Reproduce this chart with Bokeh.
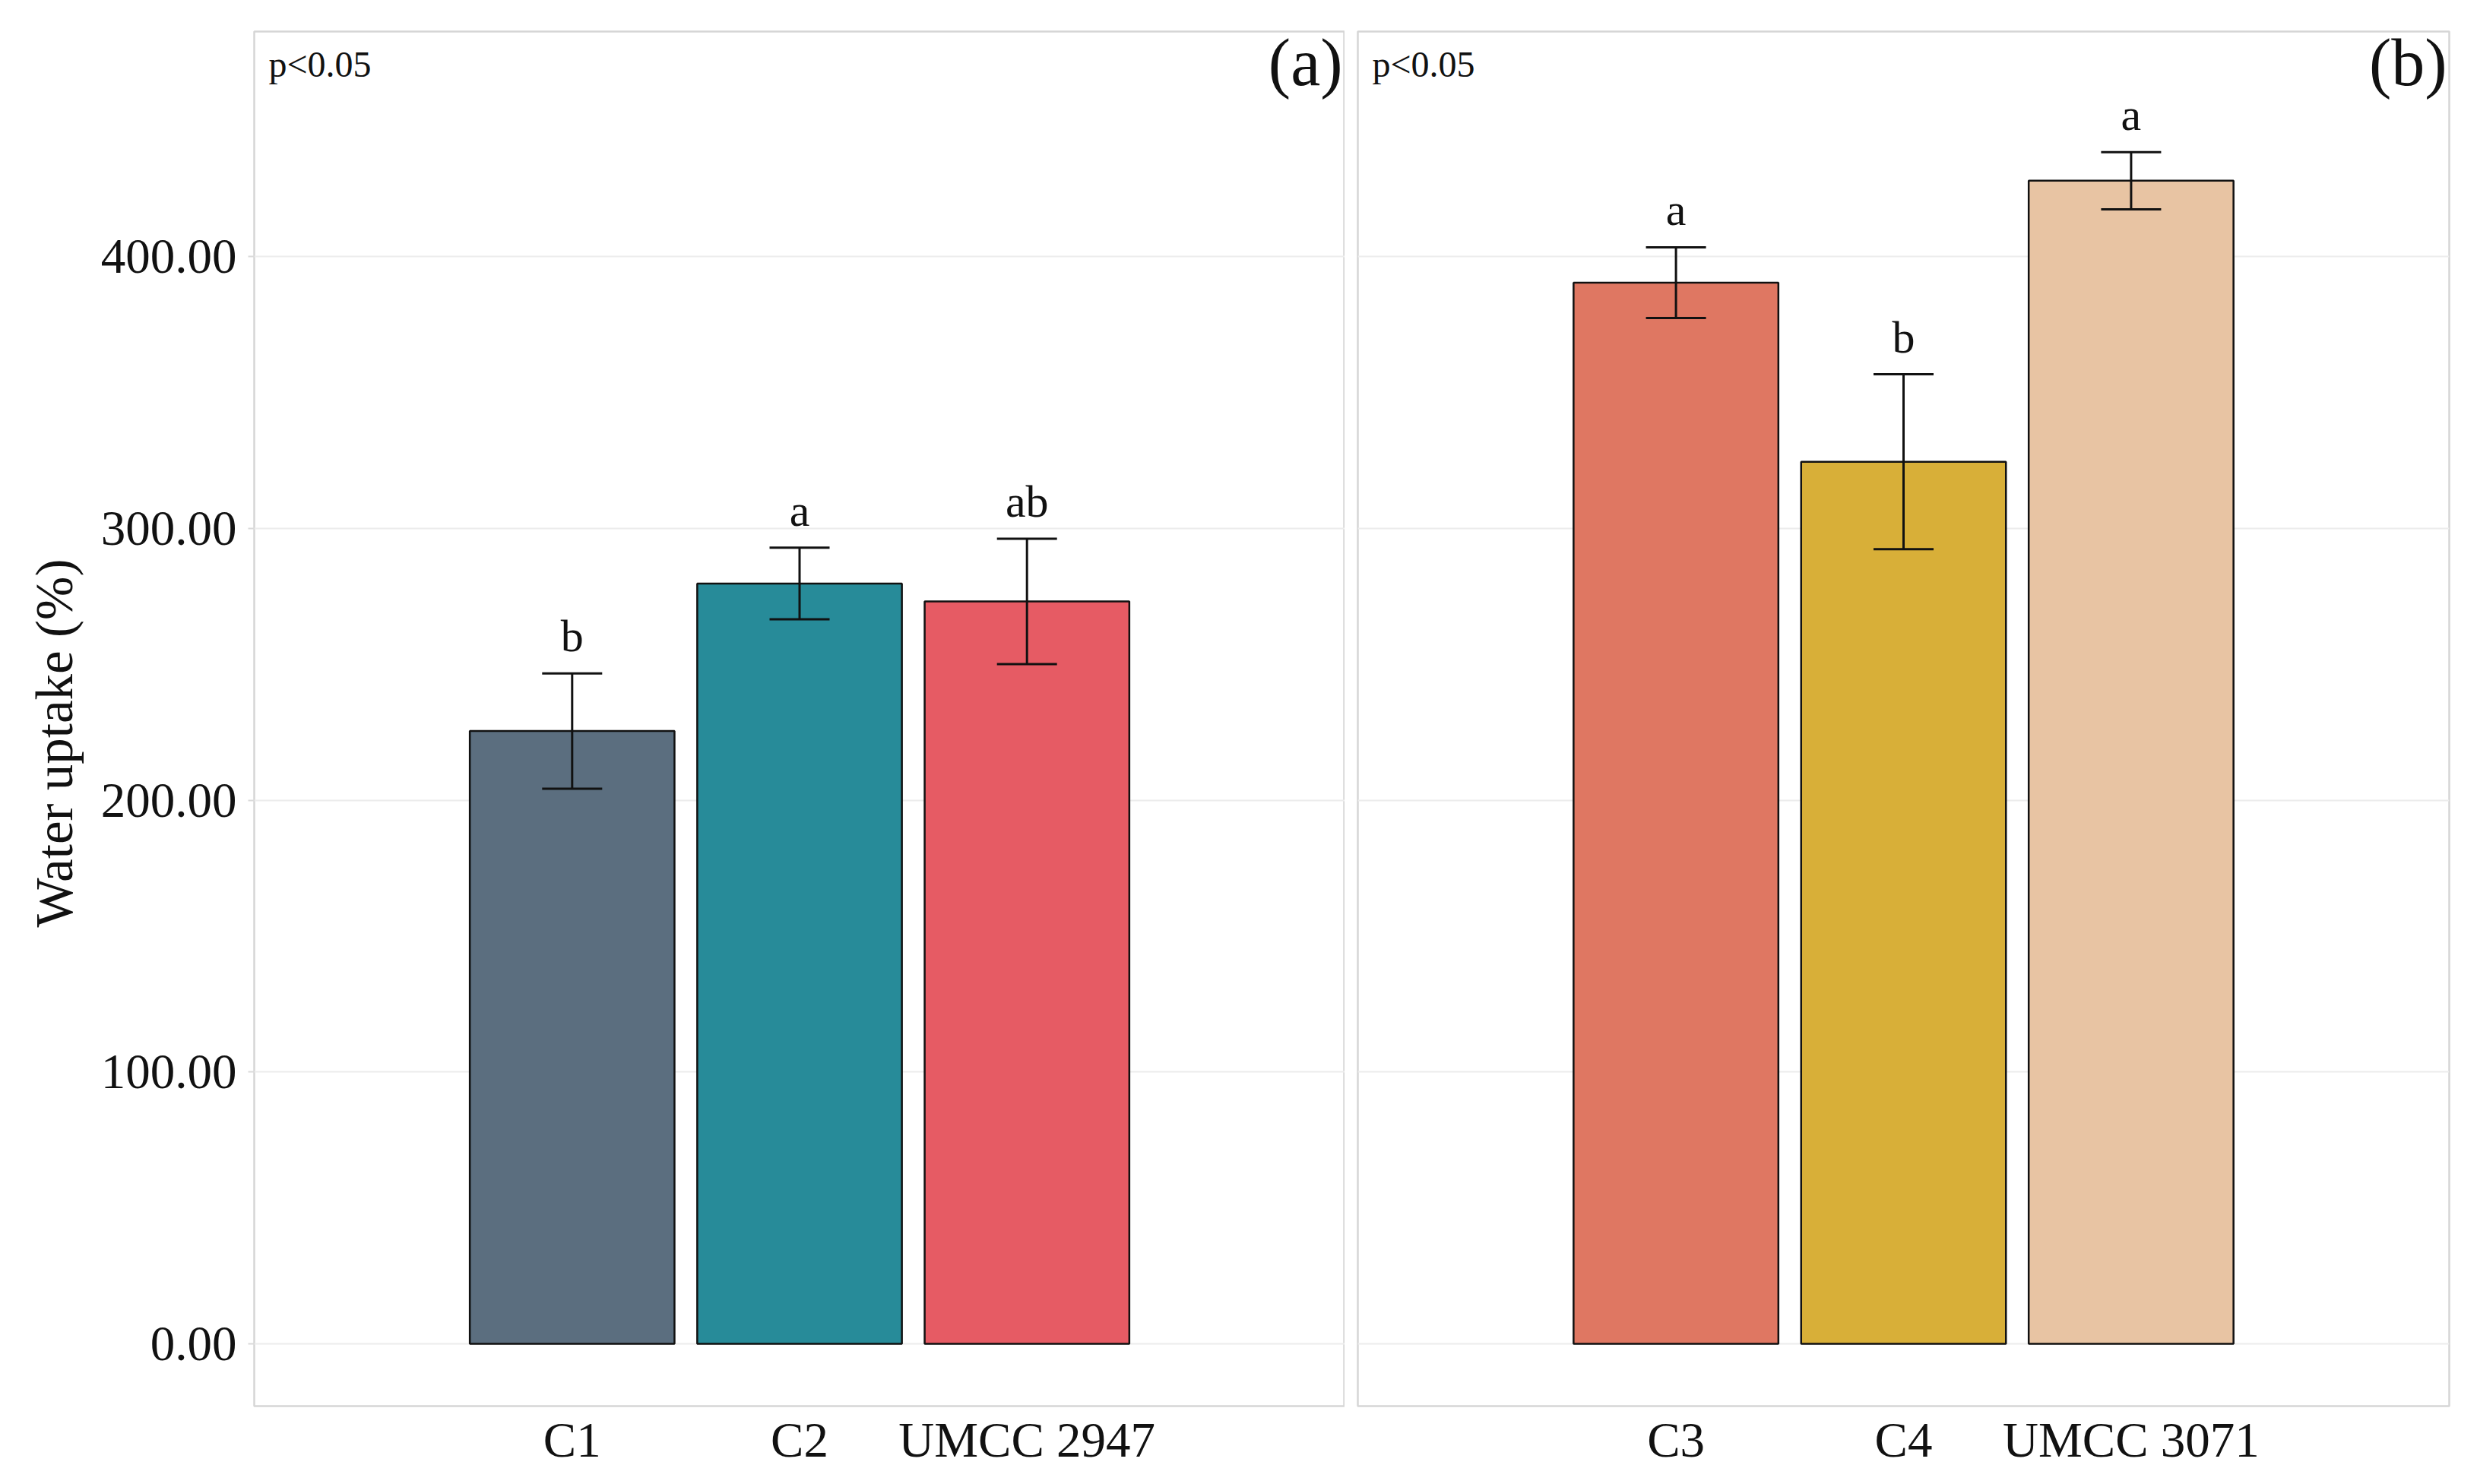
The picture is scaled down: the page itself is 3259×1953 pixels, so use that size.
from bokeh.plotting import figure
from bokeh.models import (FactorRange, Range1d, ColumnDataSource, Whisker, TeeHead,
                          Label, Title, FixedTicker, NumeralTickFormatter)
from bokeh.layouts import row
from bokeh.embed import file_html
from bokeh.resources import INLINE
from bokeh.core.properties import value

# ---- data ----
cats_a = ["C1", "C2", "UMCC 2947"]
means_a = [225.5, 279.8, 273.2]
sds_a = [21.2, 13.2, 23.1]
letters_a = ["b", "a", "ab"]
colors_a = ["#5b6e7f", "#278b99", "#e65b64"]

cats_b = ["C3", "C4", "UMCC 3071"]
means_b = [390.5, 324.6, 428.0]
sds_b = [13.0, 32.2, 10.5]
letters_b = ["a", "b", "a"]
colors_b = ["#df7762", "#d8af38", "#e8c4a3"]

y_ticks = [0, 100, 200, 300, 400]
p_text = "p<0.05"
y_title = "Water uptake (%)"

FONT = "Liberation Serif"
Y_LO, Y_HI = -22.9, 482.9
PAD = 0.898          # padding beyond the outer factors, in category units
FRAME_H = 1809


def panel(cats, means, sds, letters, colors, tag, first, fw, bl, br):
    upper = [m + s for m, s in zip(means, sds)]
    lower = [m - s for m, s in zip(means, sds)]
    src = ColumnDataSource(dict(cat=cats, mean=means, upper=upper, lower=lower,
                                ly=[u + 13.7 for u in upper], letter=letters, color=colors))
    n = len(cats)
    xr = FactorRange(factors=cats, range_padding=2 * PAD / n, range_padding_units="percent")
    p = figure(x_range=xr, y_range=Range1d(Y_LO, Y_HI), frame_width=fw, frame_height=FRAME_H,
               min_border_left=bl, min_border_right=br, min_border_top=41, min_border_bottom=103,
               output_backend="svg", toolbar_location=None)
    p.background_fill_color = "white"
    p.border_fill_color = "white"
    p.outline_line_color = "#d6d6d6"
    p.outline_line_width = 2.5

    p.vbar(x="cat", top="mean", bottom=0, width=0.9, fill_color="color",
           line_color="#111111", line_width=2.5, source=src)
    p.add_layout(Whisker(base="cat", upper="upper", lower="lower", source=src,
                         level="annotation",
                         line_color="#111111", line_width=3,
                         upper_head=TeeHead(size=79, line_width=3, line_color="#111111"),
                         lower_head=TeeHead(size=79, line_width=3, line_color="#111111")))
    p.text(x="cat", y="ly", text="letter", text_align="center", text_baseline="alphabetic",
           text_font=value(FONT), text_font_size="60px", text_color="#111111", source=src)

    left = -PAD
    right = n + PAD
    unit_px = fw / (n + 2 * PAD)
    p.add_layout(Label(x=left + 19 / unit_px, y=470.9, text=p_text, text_font=FONT,
                       text_font_size="48px", text_align="left", text_baseline="alphabetic",
                       text_color="#111111"))
    p.add_layout(Label(x=right - 3 / unit_px, y=471.5, text=tag, text_font=FONT,
                       text_font_size="88px", text_align="right", text_baseline="alphabetic",
                       text_color="#111111"))

    p.xgrid.grid_line_color = None
    p.ygrid.grid_line_color = "#ececec"
    p.ygrid.grid_line_width = 2
    p.yaxis.ticker = FixedTicker(ticks=y_ticks)
    p.yaxis.formatter = NumeralTickFormatter(format="0.00")
    p.ygrid.ticker = FixedTicker(ticks=y_ticks)

    p.xaxis.axis_line_color = None
    p.xaxis.major_tick_line_color = None
    p.xaxis.major_tick_out = 0
    p.xaxis.major_tick_in = 0
    p.xaxis.major_label_standoff = 8
    p.xaxis.major_label_text_font = FONT
    p.xaxis.major_label_text_font_size = "65px"
    p.xaxis.major_label_text_color = "#111111"

    if first:
        p.yaxis.axis_line_color = None
        p.yaxis.major_tick_line_color = "#dadada"
        p.yaxis.major_tick_line_width = 2
        p.yaxis.major_tick_out = 8
        p.yaxis.major_tick_in = 0
        p.yaxis.minor_tick_line_color = None
        p.yaxis.major_label_standoff = 15
        p.yaxis.major_label_text_font = FONT
        p.yaxis.major_label_text_font_size = "65px"
        p.yaxis.major_label_text_color = "#111111"
        # y-axis title as a side title, shifted slightly below the frame centre
        p.add_layout(Title(text=y_title, align="left", offset=630, standoff=40,
                           text_font=FONT, text_font_size="69px", text_font_style="normal",
                           text_color="#111111"), "left")
    else:
        p.yaxis.visible = False
    return p


pa = panel(cats_a, means_a, sds_a, letters_a, colors_a, "(a)", True, 1435, 334, 0)
pb = panel(cats_b, means_b, sds_b, letters_b, colors_b, "(b)", False, 1436, 17, 37)

layout = row(pa, pb, spacing=0)
open("out.html", "w").write(file_html(layout, INLINE))
